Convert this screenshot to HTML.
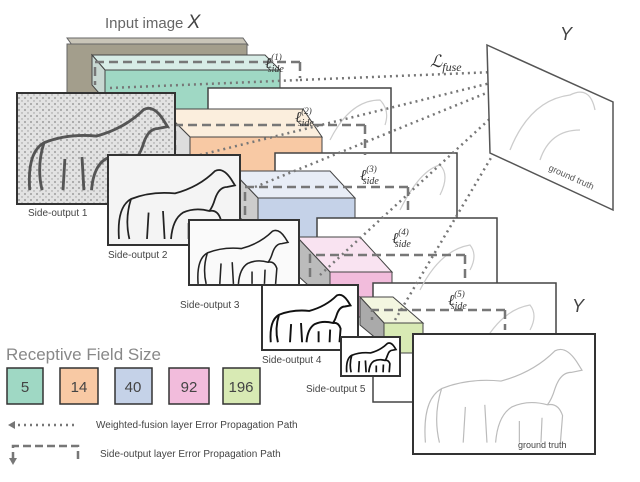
<!DOCTYPE html>
<html><head><style>
body{margin:0;background:#fff;}
svg{display:block;font-family:"Liberation Sans",sans-serif;}
</style></head><body>
<svg width="640" height="482" viewBox="0 0 640 482">
<defs>
<pattern id="noise" width="6" height="6" patternUnits="userSpaceOnUse">
<rect width="6" height="6" fill="#e2e2e2"/><circle cx="1" cy="2" r="0.9" fill="#888"/><circle cx="4" cy="5" r="0.7" fill="#999"/>
</pattern>
<g id="horse">
<path d="M5,95 Q2,55 20,45 Q45,35 75,38 Q105,30 125,10 Q135,5 145,20 L150,28 L140,30 Q130,30 125,45 Q122,55 118,60 M20,45 Q12,70 18,95 M40,95 L42,62 M62,95 L60,60"/>
<path d="M70,95 Q72,70 85,62 Q100,55 118,60 Q128,58 132,70 L130,95 M92,95 L92,75 M112,95 L113,72"/>
</g>
</defs>
<text x="105" y="28" font-size="15" fill="#666">Input image <tspan font-style="italic" font-size="19" fill="#444">X</tspan></text>
<!-- gray input block -->
<polygon points="67,38 243,38 248,45 72,45" fill="#c9c5b8" stroke="#666"/>
<rect x="67" y="44" width="180" height="60" fill="#a39e8c" stroke="#666"/>
<!-- teal block -->
<polygon points="92,55 265,55 280,70 105,70" fill="#d7ece6" stroke="#444"/>
<rect x="105" y="70" width="175" height="45" fill="#9fd8c4" stroke="#444"/>
<polygon points="92,55 105,70 105,100 92,85" fill="#c8d8d2" stroke="#444"/>
<rect x="208" y="88" width="183" height="80" fill="#fff" stroke="#444" stroke-width="1.5"/>
<!-- orange block -->
<polygon points="162,109 303,109 322,137 190,137" fill="#fbeedd" stroke="#444"/>
<rect x="190" y="137" width="132" height="45" fill="#f8c9a4" stroke="#444"/>
<polygon points="162,109 190,137 190,175 162,150" fill="#ddd" stroke="#444"/>
<rect x="275" y="153" width="182" height="85" fill="#fff" stroke="#444" stroke-width="1.5"/>
<!-- blue -->
<polygon points="232,171 330,171 355,198 258,198" fill="#e8edf6" stroke="#444"/>
<rect x="258" y="198" width="97" height="45" fill="#c5d2e8" stroke="#444"/>
<polygon points="232,171 258,198 258,235 232,210" fill="#ccc" stroke="#444"/>
<rect x="317" y="218" width="180" height="80" fill="#fff" stroke="#444" stroke-width="1.5"/>
<!-- pink -->
<polygon points="297,237 360,237 392,272 330,272" fill="#f9e3f1" stroke="#444"/>
<rect x="330" y="272" width="62" height="45" fill="#f2bcdc" stroke="#444"/>
<polygon points="297,237 330,272 330,305 297,275" fill="#bbb" stroke="#444"/>
<rect x="373" y="283" width="183" height="119" fill="#fff" stroke="#444" stroke-width="1.5"/>
<!-- green -->
<polygon points="360,297 393,297 423,323 384,323" fill="#f3f6e0" stroke="#444"/>
<rect x="384" y="323" width="39" height="30" fill="#d8eab4" stroke="#444"/>
<polygon points="360,297 384,323 384,345 360,325" fill="#aaa" stroke="#444"/>
<!-- faint horses in panels -->
<g fill="none" stroke="#ccc" stroke-width="1.2">
<path d="M330,140 q20,-40 50,-40 q10,10 5,25"/><path d="M400,210 q20,-40 40,-45 q10,10 0,30"/>
<path d="M420,290 q20,-40 50,-45 q8,10 0,25"/><path d="M480,350 q20,-40 50,-45 q8,10 0,25"/>
</g>
<!-- dashed side paths -->
<g fill="none" stroke="#777" stroke-width="2.5" stroke-dasharray="9,5">
<path d="M300,62 H95 V85"/><path d="M300,62 V78"/>
<path d="M365,125 H175 V150"/><path d="M365,125 V155"/>
<path d="M408,187 H245 V215"/><path d="M408,187 V210"/>
<path d="M465,255 H310 V280"/><path d="M465,255 V282"/>
<path d="M505,310 H372 V320"/><path d="M505,310 V330"/>
</g>
<!-- dotted fusion -->
<g fill="none" stroke="#777" stroke-width="2.5" stroke-dasharray="2,4">
<path d="M300,80 L543,70"/><path d="M200,155 L543,70"/><path d="M255,187 L543,70"/>
<path d="M320,275 L543,70"/><path d="M395,320 L543,70"/><path d="M110,88 L300,80"/>
</g>
<text x="265" y="68" font-size="15" font-style="italic" font-family="Liberation Serif" fill="#333">ℓ<tspan font-size="9" dy="-8">(1)</tspan><tspan font-size="10" dx="-14" dy="12">side</tspan></text>
<text x="295" y="122" font-size="15" font-style="italic" font-family="Liberation Serif" fill="#333">ℓ<tspan font-size="9" dy="-8">(2)</tspan><tspan font-size="10" dx="-14" dy="12">side</tspan></text>
<text x="360" y="180" font-size="15" font-style="italic" font-family="Liberation Serif" fill="#333">ℓ<tspan font-size="9" dy="-8">(3)</tspan><tspan font-size="10" dx="-14" dy="12">side</tspan></text>
<text x="392" y="243" font-size="15" font-style="italic" font-family="Liberation Serif" fill="#333">ℓ<tspan font-size="9" dy="-8">(4)</tspan><tspan font-size="10" dx="-14" dy="12">side</tspan></text>
<text x="448" y="305" font-size="15" font-style="italic" font-family="Liberation Serif" fill="#333">ℓ<tspan font-size="9" dy="-8">(5)</tspan><tspan font-size="10" dx="-14" dy="12">side</tspan></text>
<text x="430" y="67" font-size="17" font-style="italic" font-family="Liberation Serif" fill="#333">ℒ<tspan font-size="12" dy="4">fuse</tspan></text>
<text x="560" y="40" font-size="18" font-style="italic" fill="#444">Y</text>
<text x="572" y="312" font-size="18" font-style="italic" fill="#444">Y</text>
<!-- right GT panel -->
<polygon points="487,45 613,102 613,210 490,153" fill="#fff" stroke="#555" stroke-width="1.5"/>
<path d="M510,150 q20,-50 60,-55 q20,-10 25,15 M540,160 q10,-30 40,-30" fill="none" stroke="#ccc" stroke-width="1.3"/>
<text x="548" y="170" font-size="9" fill="#555" transform="rotate(24 548 170)">ground truth</text>
<!-- side-output images -->
<rect x="17" y="93" width="158" height="111" fill="url(#noise)" stroke="#333" stroke-width="2"/>
<use href="#horse" transform="translate(25,100) scale(0.95)" fill="none" stroke="#555" stroke-width="3"/>
<text x="28" y="216" font-size="10" fill="#444">Side-output 1</text>
<rect x="108" y="155" width="132" height="90" fill="#f4f4f4" stroke="#333" stroke-width="2"/>
<use href="#horse" transform="translate(115,163) scale(0.8)" fill="none" stroke="#222" stroke-width="2.2"/>
<text x="108" y="258" font-size="10" fill="#444">Side-output 2</text>
<rect x="189" y="220" width="110" height="65" fill="#fafafa" stroke="#333" stroke-width="2"/>
<use href="#horse" transform="translate(195,225) scale(0.62)" fill="none" stroke="#222" stroke-width="2.5"/>
<text x="180" y="308" font-size="10" fill="#444">Side-output 3</text>
<rect x="262" y="285" width="96" height="65" fill="#fff" stroke="#333" stroke-width="2"/>
<use href="#horse" transform="translate(268,290) scale(0.55)" fill="none" stroke="#111" stroke-width="3.5"/>
<text x="262" y="363" font-size="10" fill="#444">Side-output 4</text>
<rect x="341" y="337" width="59" height="39" fill="#fff" stroke="#333" stroke-width="2"/>
<use href="#horse" transform="translate(345,340) scale(0.34)" fill="none" stroke="#111" stroke-width="5"/>
<text x="306" y="392" font-size="10" fill="#444">Side-output 5</text>
<!-- big GT -->
<rect x="413" y="334" width="182" height="120" fill="#fff" stroke="#333" stroke-width="2"/>
<use href="#horse" transform="translate(420,340) scale(1.08)" fill="none" stroke="#bbb" stroke-width="1.1"/>
<text x="518" y="448" font-size="9" fill="#444">ground truth</text>
<!-- legend -->
<text x="6" y="360" font-size="17" fill="#888">Receptive Field Size</text>
<g font-size="15" fill="#444" stroke="#333" stroke-width="1.5">
<rect x="7" y="368" width="36" height="36" fill="#9fd8c4"/>
<rect x="60" y="368" width="38" height="36" fill="#f8c9a4"/>
<rect x="115" y="368" width="37" height="36" fill="#c5d2e8"/>
<rect x="169" y="368" width="40" height="36" fill="#f2bcdc"/>
<rect x="223" y="368" width="37" height="36" fill="#d8eab4"/>
</g>
<g font-size="15" fill="#444" text-anchor="middle">
<text x="25" y="392">5</text><text x="79" y="392">14</text><text x="133" y="392">40</text><text x="189" y="392">92</text><text x="241" y="392">196</text>
</g>
<path d="M12,425 H75" stroke="#777" stroke-width="2.5" stroke-dasharray="2,4"/>
<polygon points="8,425 15,421 15,429" fill="#777"/>
<text x="96" y="428" font-size="10" fill="#444">Weighted-fusion layer Error Propagation Path</text>
<path d="M13,460 V446 H78 V462" fill="none" stroke="#777" stroke-width="2.5" stroke-dasharray="8,4"/>
<polygon points="9,458 17,458 13,465" fill="#777"/>
<text x="100" y="457" font-size="10" fill="#444">Side-output layer Error Propagation Path</text>
</svg>
</body></html>
